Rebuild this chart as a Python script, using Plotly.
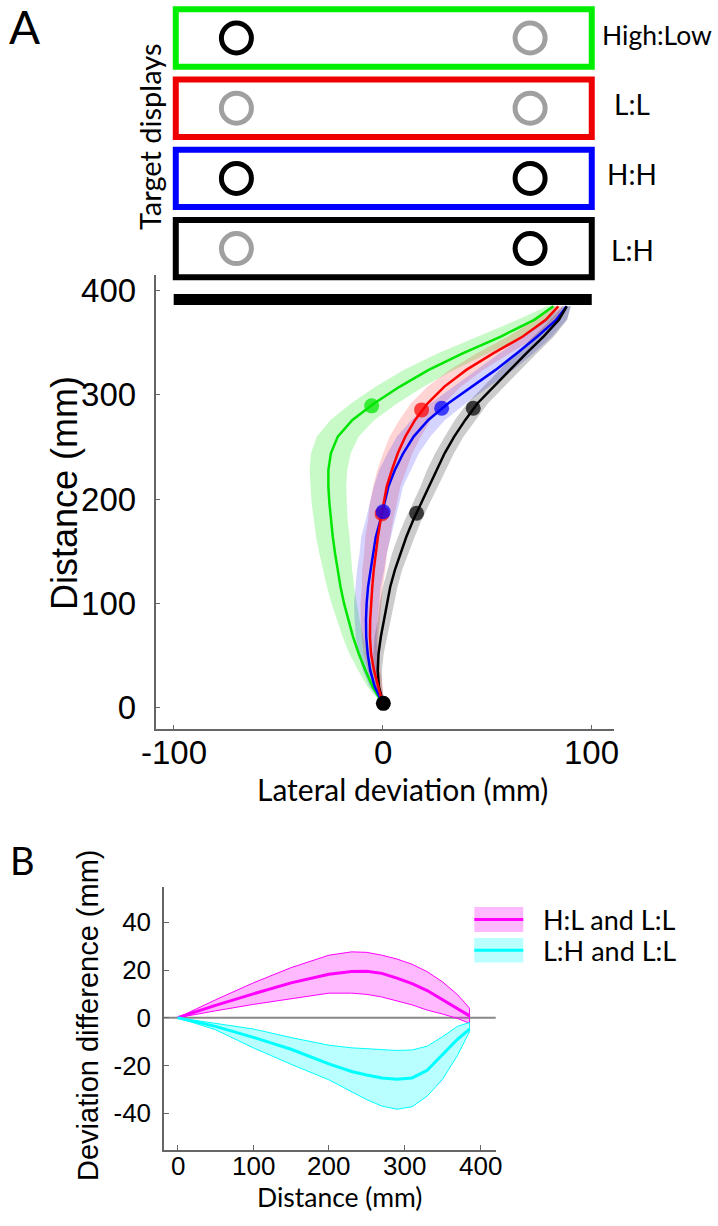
import plotly.graph_objects as go

W, H = 718, 1226

# ---------------- data: panel A (trajectories) ----------------
dist_a = [4, 20, 36, 52, 68, 84, 100, 116, 132, 148, 164, 180, 196, 212, 228,
          244, 260, 276, 292, 308, 324, 340, 356, 372, 385]
green_x = [0, -4.8, -8.3, -11.5, -14.2, -16.5, -18.5, -20.2, -21.6, -22.8, -23.9, -24.8,
           -25.5, -26.0, -26.0, -24.8, -21.5, -14.5, -4.0, 8.2, 22.0, 38.5, 56.5, 72.5, 81.6]
green_band = [0.5, 2.5, 3.5, 4.5, 5, 5.5, 6, 6.5, 7, 7.5, 8, 8, 8.5, 8.5, 9, 9.5, 10,
              10.5, 11, 11.5, 12, 12, 11, 8, 3]
red_x = [0, -2.0, -4.2, -5.6, -6.1, -6.0, -5.6, -5.0, -4.3, -3.4, -2.3, -1.0, 0.3, 1.9,
         4.4, 7.2, 10.8, 15.5, 21.5, 29.5, 40, 53, 67, 78, 84]
red_band = [0.5, 2, 3, 3.5, 4, 4.5, 5, 5, 5.5, 5.5, 6, 6, 6.5, 6.5, 7, 7, 7.5, 7.5, 8,
            8, 8, 8, 7, 5, 2]
blue_x = [0, -3.8, -6.0, -7.2, -7.9, -8.0, -7.7, -7.0, -5.8, -4.6, -3.3, -1.1, 0.9, 2.7,
          5.8, 9.8, 14.8, 21.8, 31.4, 42.4, 54, 64.2, 74, 83, 88]
blue_band = [0.5, 2.5, 3.5, 4.5, 5, 5.5, 6, 6, 6.5, 6.5, 7, 7, 7, 7, 7.5, 7.5, 8, 8,
             8.5, 8.5, 8.5, 8, 7, 5, 2]
black_x = [0.3, -1.8, -2.4, -2.0, -0.9, 0.6, 2.0, 3.6, 5.8, 8.4, 11.3, 14.6, 18.4, 22,
           25.7, 29.6, 34.2, 39.5, 45.4, 53, 60.9, 68.8, 76.9, 84.3, 88]
black_band = [0.5, 1.5, 2, 2.5, 3, 3, 3.5, 3.5, 3.5, 4, 4, 4, 4, 4, 4.5, 4.5, 4.5, 5,
              5, 5, 5, 5, 5, 4, 2]

green_dot_x, green_dot_y = [-5.3], [289.5]
red_dot_x, red_dot_y = [18.6, -0.3], [285.6, 186]
blue_dot_x, blue_dot_y = [28.2, 0.2], [287.2, 188]
black_dot_x, black_dot_y = [43.3, 16.2], [287.2, 186.5]
start_x, start_y = [0.3], [4.2]

barrier_x = [-100, 100]
barrier_y = [386.3, 396.8]

xticks_a = [-100, 0, 100]
xtick_labels_a = ["-100", "0", "100"]
yticks_a = [0, 100, 200, 300, 400]

# ---------------- data: target displays ----------------
display_labels = ["High:Low", "L:L", "H:H", "L:H"]
display_colors = ["#00ee00", "#ee0000", "#0000ff", "#000000"]
left_target = ["H", "L", "H", "L"]
right_target = ["L", "L", "H", "H"]
target_pos = [-70, 70.5]
target_color = {"H": "#000000", "L": "#a0a0a0"}

# ---------------- data: panel B (deviation differences) ----------------
dist_b = [0, 50, 100, 150, 200, 230, 250, 270, 290, 310, 330, 350, 370, 386]
hl_mean = [0, 5.2, 10.0, 14.6, 18.2, 19.4, 19.5, 18.6, 16.6, 14.3, 11.4, 7.5, 3.8, 0.8]
hl_upper = [0, 7.5, 14.6, 21.0, 26.2, 27.6, 27.4, 26.2, 24.6, 22.4, 19.3, 15.1, 9.7, 4.0]
hl_lower = [0, 2.9, 5.6, 8.0, 10.3, 10.3, 9.8, 8.7, 7.2, 5.4, 3.2, 1.6, -0.3, -2.3]
lh_mean = [0, -3.6, -8.2, -13.2, -19.3, -22.5, -24.0, -25.2, -25.8, -25.2, -22.0, -15.3, -9.0, -4.8]
lh_upper = [0, -2.2, -4.7, -8.3, -11.5, -12.6, -13.0, -13.4, -13.7, -13.5, -11.9, -8.0, -3.6, -2.0]
lh_lower = [0, -5.0, -12.6, -19.5, -26.0, -31.0, -34.3, -37.0, -38.3, -37.3, -32.8, -25.9, -15.8, -5.8]
legend_labels = ["H:L and L:L", "L:H and L:L"]
xticks_b = [0, 100, 200, 300, 400]
yticks_b = [-40, -20, 0, 20, 40]
ytick_labels_b = ["-40", "-20", "0", "20", "40"]

# ---------------- helpers ----------------
def fx(p):
    return p / W


def fy(p):
    return 1 - p / H


HELV = "Liberation Sans, Arial, Helvetica, sans-serif"
CALI = "Lato, Open Sans, sans-serif"
AXC = "#666666"

fig = go.Figure()

# ---- panel A bands
series = [
    (green_x, green_band, "rgba(0,230,0,0.22)", "#00e600"),
    (red_x, red_band, "rgba(255,0,0,0.17)", "#ff0000"),
    (blue_x, blue_band, "rgba(0,0,255,0.17)", "#0000ff"),
    (black_x, black_band, "rgba(0,0,0,0.2)", "#000000"),
]
for xs, band, fcol, lcol in series:
    lo = [a - b for a, b in zip(xs, band)]
    hi = [a + b for a, b in zip(xs, band)]
    fig.add_trace(go.Scatter(x=lo + hi[::-1], y=dist_a + dist_a[::-1], fill="toself",
                             fillcolor=fcol, line=dict(width=0), mode="lines",
                             hoverinfo="skip", showlegend=False, xaxis="x", yaxis="y"))
for xs, band, fcol, lcol in [series[0], series[2], series[3], series[1]]:
    fig.add_trace(go.Scatter(x=xs, y=dist_a, mode="lines", line=dict(color=lcol, width=2.5),
                             showlegend=False, xaxis="x", yaxis="y"))

for dx, dy, col in [(green_dot_x, green_dot_y, "#00e600"), (red_dot_x, red_dot_y, "#ff0000"),
                    (blue_dot_x, blue_dot_y, "#0000ff"), (black_dot_x, black_dot_y, "#000000")]:
    fig.add_trace(go.Scatter(x=dx, y=dy, mode="markers",
                             marker=dict(color=col, size=15, opacity=0.72, line=dict(width=0)),
                             showlegend=False, xaxis="x", yaxis="y"))
fig.add_trace(go.Scatter(x=start_x, y=start_y, mode="markers",
                         marker=dict(color="#000000", size=15, line=dict(width=0)),
                         showlegend=False, xaxis="x", yaxis="y"))

# ---- target displays (circles)
rows = list(range(len(display_labels)))
for side, targets in zip(target_pos, [left_target, right_target]):
    fig.add_trace(go.Scatter(x=[side] * len(rows), y=rows, mode="markers",
                             marker=dict(symbol="circle-open", size=30,
                                         color=[target_color[t] for t in targets],
                                         line=dict(width=5,
                                                   color=[target_color[t] for t in targets])),
                             showlegend=False, xaxis="x", yaxis="y3"))

# ---- panel B
for mean, up, lo, col, fcol in [(hl_mean, hl_upper, hl_lower, "#ff00ff", "rgba(255,0,255,0.27)"),
                               (lh_mean, lh_upper, lh_lower, "#00ffff", "rgba(0,255,255,0.27)")]:
    fig.add_trace(go.Scatter(x=dist_b + dist_b[::-1], y=up + lo[::-1], fill="toself",
                             fillcolor=fcol, line=dict(color=col, width=1), mode="lines",
                             hoverinfo="skip", showlegend=False, xaxis="x2", yaxis="y2"))
    fig.add_trace(go.Scatter(x=dist_b, y=mean, mode="lines", line=dict(color=col, width=3),
                             showlegend=False, xaxis="x2", yaxis="y2"))

# ---------------- layout ----------------
ROW0_PX, ROW_STEP_PX = 38, 70.2
disp_top_px, disp_bot_px = 0, 290
y3_range = [(disp_bot_px - ROW0_PX) / ROW_STEP_PX, (disp_top_px - ROW0_PX) / ROW_STEP_PX]
box_half = 28.7 / ROW_STEP_PX

shapes = []
for i, col in enumerate(display_colors):
    shapes.append(dict(type="rect", xref="x", yref="y3", x0=-99, x1=100,
                       y0=i - box_half, y1=i + box_half,
                       line=dict(color=col, width=6), fillcolor="rgba(0,0,0,0)", layer="below"))
shapes.append(dict(type="rect", xref="x", yref="y", x0=barrier_x[0], x1=barrier_x[1],
                   y0=barrier_y[0], y1=barrier_y[1], fillcolor="black", line=dict(width=0),
                   layer="below"))
shapes.append(dict(type="line", xref="x2 domain", yref="y2", x0=0, x1=1, y0=0, y1=0,
                   line=dict(color="#888888", width=2), layer="below"))
# legend swatches for panel B
for (top, bot), fcol, col in zip([(907, 932), (938, 962.5)],
                                 ["rgba(255,0,255,0.27)", "rgba(0,255,255,0.27)"],
                                 ["#ff00ff", "#00ffff"]):
    shapes.append(dict(type="rect", xref="paper", yref="paper", x0=fx(474.3), x1=fx(523.3),
                       y0=fy(bot), y1=fy(top), fillcolor=fcol, line=dict(width=0)))
    shapes.append(dict(type="line", xref="paper", yref="paper", x0=fx(474.3), x1=fx(523.3),
                       y0=fy((top + bot) / 2), y1=fy((top + bot) / 2),
                       line=dict(color=col, width=3)))

ann = []


def txt(t, x, y, size, family, angle=0, xanchor="center"):
    ann.append(dict(text=t, x=fx(x), y=fy(y), xref="paper", yref="paper", showarrow=False,
                    xanchor=xanchor, yanchor="middle", textangle=angle, borderpad=0,
                    font=dict(size=size, family=family, color="black")))


txt("A", 24, 27, 46, CALI)
txt("B", 22, 860, 38, CALI)
txt("Target displays", 149, 137, 29, CALI, angle=-90)
txt(display_labels[0], 601, 35, 26.5, CALI, xanchor="left")
for lab, yy in zip(display_labels[1:], [104, 174, 250]):
    txt(lab, 632, yy, 28, CALI)
txt("Distance (mm)", 64, 493, 36, HELV, angle=-90)
txt("Lateral deviation (mm)", 402, 789, 30, CALI)
txt("Deviation difference (mm)", 88, 1016, 29, HELV, angle=-90)
txt("Distance (mm)", 339, 1197, 26.5, CALI)
txt(legend_labels[0], 542, 919.5, 27, CALI, xanchor="left")
txt(legend_labels[1], 542, 950, 27, CALI, xanchor="left")

# x tick labels placed as annotations under the axes
for v, lab in zip(xticks_a, xtick_labels_a):
    ann.append(dict(text=lab, x=v, xref="x", y=fy(752), yref="paper", showarrow=False,
                    xanchor="center", yanchor="middle", borderpad=0,
                    font=dict(size=33, family=HELV, color="black")))
for v in xticks_b:
    ann.append(dict(text=str(v), x=v, xref="x2", y=fy(1166), yref="paper", showarrow=False,
                    xanchor="center", yanchor="middle", borderpad=0,
                    font=dict(size=26, family=HELV, color="black")))

axis_common = dict(showline=True, linecolor=AXC, linewidth=1.5, ticks="inside", ticklen=5,
                   tickcolor=AXC, tickwidth=1, showgrid=False, zeroline=False,
                   automargin=False)

fig.update_layout(
    template="none",
    width=W, height=H, autosize=False,
    margin=dict(l=0, r=0, t=0, b=0, pad=0),
    paper_bgcolor="white", plot_bgcolor="rgba(0,0,0,0)",
    showlegend=False,
    xaxis=dict(domain=[fx(155.5), fx(613.5)], range=[-108.7, 110.4], anchor="y",
               tickvals=xticks_a, showticklabels=False, **axis_common),
    yaxis=dict(domain=[fy(729.3), fy(275)], range=[-20.7, 415], anchor="x",
               tickvals=yticks_a,
               tickfont=dict(family=HELV, size=33, color="black"), ticklabelstandoff=11,
               **axis_common),
    yaxis3=dict(domain=[fy(disp_bot_px), fy(disp_top_px)], range=y3_range, anchor="x",
                visible=False, showgrid=False, zeroline=False, automargin=False),
    xaxis2=dict(domain=[fx(164), fx(495.7)], range=[-18.1, 420.6], anchor="y2",
                tickvals=xticks_b, showticklabels=False, **axis_common),
    yaxis2=dict(domain=[fy(1150), fy(886.7)], range=[-55.4, 54.9], anchor="x2",
                tickvals=yticks_b, ticktext=ytick_labels_b,
                tickfont=dict(family=HELV, size=26, color="black"), ticklabelstandoff=6,
                **axis_common),
    shapes=shapes,
    annotations=ann,
)

fig.write_html("out.html")
